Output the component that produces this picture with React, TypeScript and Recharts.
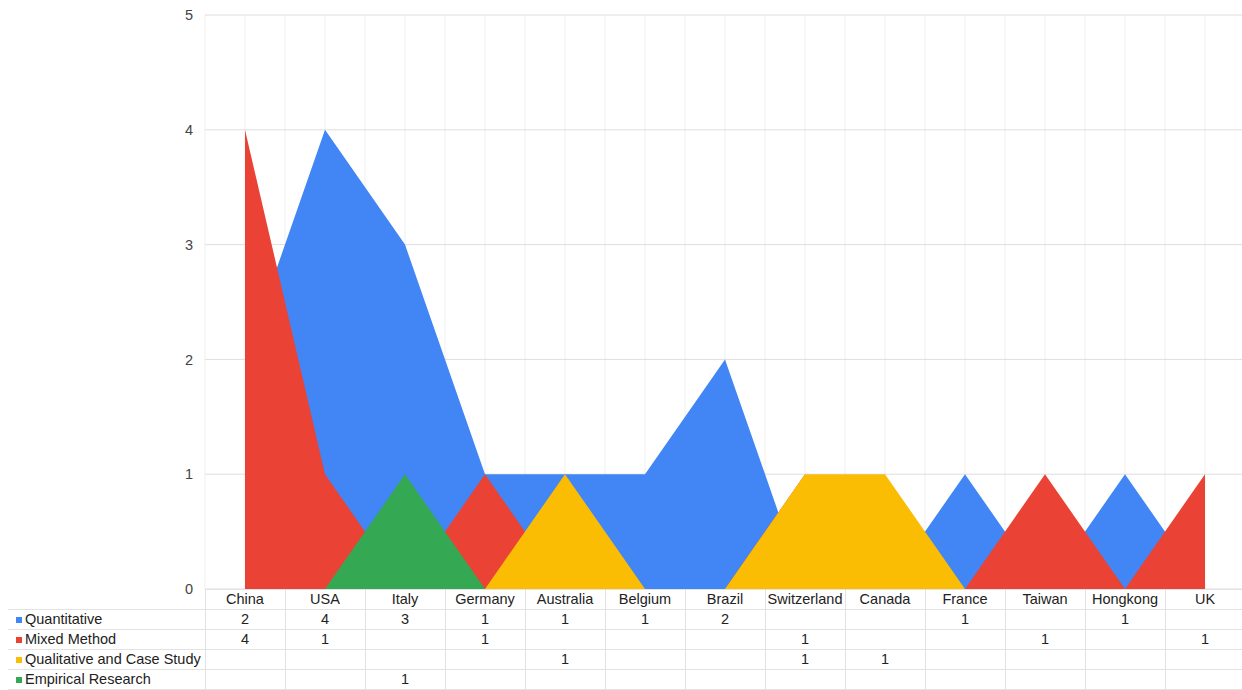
import { AreaChart, Area, XAxis, YAxis, CartesianGrid } from "recharts";

document.body.style.margin = "0";

const countries = [
  "China",
  "USA",
  "Italy",
  "Germany",
  "Australia",
  "Belgium",
  "Brazil",
  "Switzerland",
  "Canada",
  "France",
  "Taiwan",
  "Hongkong",
  "UK",
];
const quantitative = [2, 4, 3, 1, 1, 1, 2, 0, 0, 1, 0, 1, 0];
const mixedMethod = [4, 1, 0, 1, 0, 0, 0, 1, 0, 0, 1, 0, 1];
const qualitative = [0, 0, 0, 0, 1, 0, 0, 1, 1, 0, 0, 0, 0];
const empirical = [0, 0, 1, 0, 0, 0, 0, 0, 0, 0, 0, 0, 0];
const yTicks = [0, 1, 2, 3, 4, 5];

const series = [
  { key: "quantitative", name: "Quantitative", color: "#4285f4", values: quantitative },
  { key: "mixedMethod", name: "Mixed Method", color: "#ea4335", values: mixedMethod },
  { key: "qualitative", name: "Qualitative and Case Study", color: "#fbbc04", values: qualitative },
  { key: "empirical", name: "Empirical Research", color: "#34a853", values: empirical },
];

const data = countries.map((country, i) => {
  const row: Record<string, string | number> = { country };
  series.forEach((s) => {
    row[s.key] = s.values[i];
  });
  return row;
});

const font = "'Liberation Sans', Arial, sans-serif";
const border = "1px solid #e2e2e2";

const cellStyle: React.CSSProperties = {
  border,
  height: 19,
  padding: 0,
  textAlign: "center",
  fontSize: 14.5,
  lineHeight: "19px",
  color: "#222",
  whiteSpace: "nowrap",
  overflow: "hidden",
};

export default function App() {
  return (
    <div
      style={{
        position: "relative",
        width: 1242,
        height: 690,
        overflow: "hidden",
        background: "#fff",
        fontFamily: font,
      }}
    >
      <AreaChart
        width={1245}
        height={597}
        data={data}
        margin={{ top: 15, right: 0, bottom: 8, left: 165 }}
      >
        <CartesianGrid
          horizontal={false}
          stroke="#efefef"
          verticalCoordinatesGenerator={({ offset }: any) =>
            Array.from({ length: countries.length * 2 + 1 }, (_, i) =>
              offset.left + (i * offset.width) / (countries.length * 2)
            )
          }
        />
        <CartesianGrid vertical={false} stroke="#dedede" />
        <XAxis
          dataKey="country"
          scale="point"
          padding={{ left: 40, right: 40 }}
          hide
        />
        <YAxis
          width={40}
          domain={[0, 5]}
          ticks={yTicks}
          interval={0}
          axisLine={false}
          tickLine={false}
          tickSize={0}
          tickMargin={12}
          tick={{ fontSize: 14.5, fill: "#444", fontFamily: font }}
        />
        {series.map((s) => (
          <Area
            key={s.key}
            type="linear"
            dataKey={s.key}
            name={s.name}
            stroke="none"
            fill={s.color}
            fillOpacity={1}
            isAnimationActive={false}
            dot={false}
            activeDot={false}
          />
        ))}
      </AreaChart>

      <table
        style={{
          position: "absolute",
          top: 589,
          left: 8,
          borderCollapse: "collapse",
          tableLayout: "fixed",
          width: 197 + countries.length * 80,
          fontFamily: font,
        }}
      >
        <colgroup>
          <col style={{ width: 197 }} />
          {countries.map((c) => (
            <col key={c} style={{ width: 80 }} />
          ))}
        </colgroup>
        <tbody>
          <tr>
            <td style={{ ...cellStyle, border: "none", borderRight: border }} />
            {countries.map((c) => (
              <td key={c} style={cellStyle}>
                {c}
              </td>
            ))}
          </tr>
          {series.map((s) => (
            <tr key={s.key}>
              <td style={{ ...cellStyle, textAlign: "left", paddingLeft: 8, borderLeft: "none" }}>
                <span
                  style={{
                    display: "inline-block",
                    width: 6,
                    height: 6,
                    background: s.color,
                    marginRight: 3,
                    verticalAlign: "1px",
                  }}
                />
                {s.name}
              </td>
              {s.values.map((v, i) => (
                <td key={countries[i]} style={cellStyle}>
                  {v > 0 ? v : ""}
                </td>
              ))}
            </tr>
          ))}
        </tbody>
      </table>
    </div>
  );
}
